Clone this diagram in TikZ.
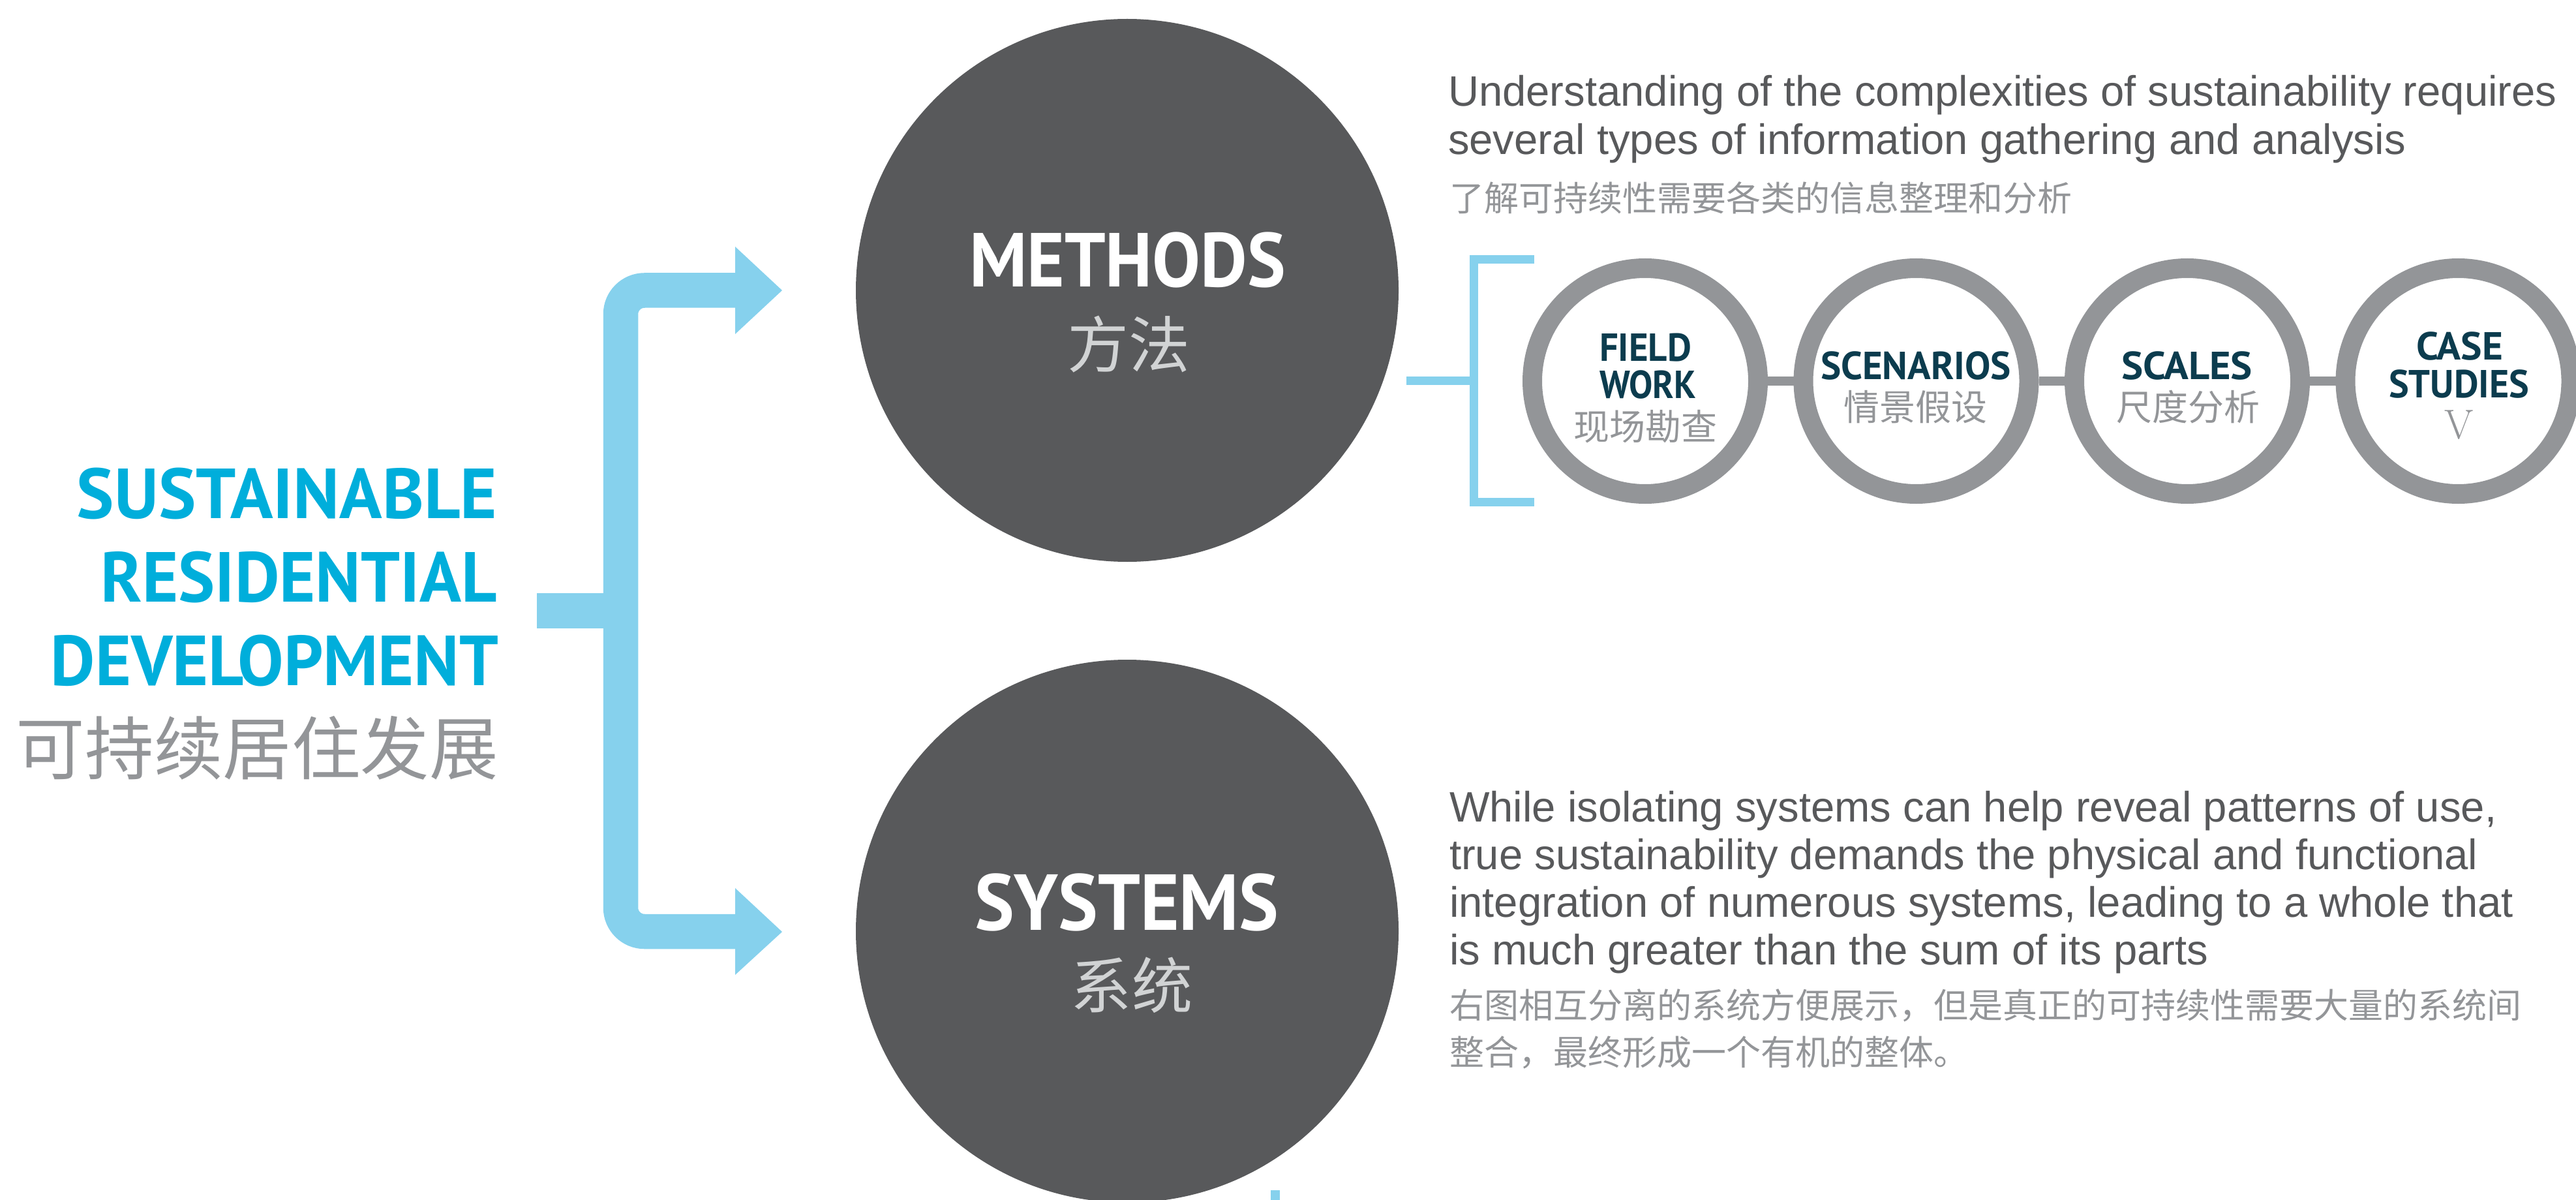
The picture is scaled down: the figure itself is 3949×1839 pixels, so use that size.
\documentclass[tikz,border=0pt]{standalone}
\usepackage{fontspec}
\usepackage{graphicx}
\newfontfamily\bodyfont{Liberation Sans}
\newfontfamily\dinfont{PT Sans}
\newfontfamily\cjk{Noto Sans CJK SC}
\definecolor{titlec}{HTML}{00AEDB}
\definecolor{lblue}{HTML}{86D1ED}
\definecolor{darkc}{HTML}{58595B}
\definecolor{ringg}{HTML}{939598}
\definecolor{tealc}{HTML}{0C3C4E}
\definecolor{textg}{HTML}{58595B}
\definecolor{cng}{HTML}{939598}
\definecolor{cnlight}{HTML}{D1D3D4}
\newcommand\fitw[2]{\resizebox{#1}{\height}{#2}}
\tikzset{
  bigcircle/.style={circle, fill=darkc, minimum size=208pt, inner sep=0pt},
  ring/.style={circle, draw=ringg, line width=7.5pt, minimum size=86.5pt, inner sep=0pt},
  ringbar/.style={draw=ringg, line width=3.5pt},
  thinbar/.style={draw=lblue, line width=3.25pt, line join=miter},
  bigbar/.style={draw=lblue, line width=13.375pt, rounded corners=9.125pt},
  txt/.style={inner sep=0pt, outer sep=0pt},
  bodytext/.style={txt, text=textg, font=\bodyfont\fontsize{16.3pt}{19pt}\selectfont, anchor=base west},
  cnbody/.style={txt, text=cng, font=\cjk\fontsize{13.25pt}{16pt}\selectfont, anchor=base west},
  ttl/.style={txt, text=titlec, font=\dinfont\bfseries\fontsize{27.14pt}{32pt}\selectfont, anchor=base east},
  ttlcn/.style={txt, text=cng, font=\cjk\fontsize{26.4pt}{30pt}\selectfont, anchor=base east},
  bigword/.style={txt, text=white, font=\dinfont\bfseries\fontsize{29.3pt}{34pt}\selectfont, anchor=base},
  bigcn/.style={txt, text=cnlight, font=\cjk\fontsize{23.5pt}{28pt}\selectfont, anchor=base},
  smalllabel/.style={txt, text=tealc, font=\dinfont\bfseries\fontsize{15pt}{18pt}\selectfont, anchor=base},
  smallcn/.style={txt, text=cng, font=\cjk\fontsize{13.75pt}{16pt}\selectfont, anchor=base},
}
\begin{document}
\begin{tikzpicture}[x=0.25pt, y=-0.25pt]
\useasboundingbox (0,0) rectangle (3949,1839);

% big circles
\node[bigcircle] (methods) at (1728,445) {};
\node[bigcircle] (systems) at (1728,1427) {};

% left title
\node[ttl] (t1) at (762,794) {\fitw{161pt}{SUSTAINABLE}};
\node[ttl] (t2) at (762,922) {\fitw{151.75pt}{RESIDENTIAL}};
\node[ttl] (t3) at (764,1050) {\fitw{171.5pt}{DEVELOPMENT}};
\node[ttlcn] (t4) at (764,1186) {可持续居住发展};

% big blue bracket arrows
\coordinate (stubL) at (823,936);
\coordinate (stubR) at (952,936);
\coordinate (topA) at (1130,445);
\coordinate (topC) at (951.5,445);
\coordinate (botC) at (951.5,1427.5);
\coordinate (botA) at (1130,1427.5);
\draw[bigbar] (topA) -- (topC) -- (botC) -- (botA);
\draw[draw=lblue, line width=13.5pt] (stubL) -- (stubR);
\fill[lblue] (1127,378) -- (1199,445) -- (1127,512) -- cycle;
\fill[lblue] (1127,1361) -- (1199,1428) -- (1127,1494) -- cycle;

% circle texts
\node[bigword] (mw) at (1728.5,440) {\fitw{121.25pt}{METHODS}};
\node[bigcn] (mc) at (1730.5,563) {方法};
\node[bigword, font=\dinfont\bfseries\fontsize{30.4pt}{34pt}\selectfont] (sw) at (1727,1425) {\fitw{116.5pt}{SYSTEMS}};
\node[bigcn, font=\cjk\fontsize{23.3pt}{28pt}\selectfont] (sc) at (1735,1545) {系统};

% methods bracket
\coordinate (mstub) at (2156,583.5);
\coordinate (bjoin) at (2259.5,583.5);
\coordinate (btop) at (2259.5,397.5);
\coordinate (bbot) at (2259.5,769.5);
\coordinate (btopend) at (2352,397.5);
\coordinate (bbotend) at (2352,769.5);
\draw[thinbar] (btopend) -- (btop) -- (bbot) -- (bbotend);
\draw[thinbar] (mstub) -- (bjoin);

% rings
\node[ring] (c1) at (2522,584) {};
\node[ring] (c2) at (2937.5,584) {};
\node[ring] (c3) at (3353,584) {};
\node[ring] (c4) at (3768.5,584) {};
\draw[ringbar] (c1.east) -- (c2.west);
\draw[ringbar] (c2.east) -- (c3.west);
\draw[ringbar] (c3.east) -- (c4.west);

\node[smalllabel] (l1a) at (2522.5,553) {\fitw{35.25pt}{FIELD}};
\node[smalllabel] (l1b) at (2526,611) {\fitw{37pt}{WORK}};
\node[smallcn] (l1c) at (2522,674) {现场勘查};
\node[smalllabel] (l2a) at (2937,582) {\fitw{73pt}{SCENARIOS}};
\node[smallcn] (l2c) at (2936,644) {情景假设};
\node[smalllabel] (l3a) at (3352.5,582) {\fitw{50.25pt}{SCALES}};
\node[smallcn] (l3c) at (3354,644) {尺度分析};
\node[smalllabel] (l4a) at (3770.5,552) {\fitw{33.25pt}{CASE}};
\node[smalllabel] (l4b) at (3769.5,610) {\fitw{53.75pt}{STUDIES}};
\node[txt, text=cng, font=\fontsize{16pt}{18pt}\selectfont, anchor=base] (l4c) at (3769.5,672) {V};

% top paragraph
\node[bodytext] (p1) at (2220,163) {Understanding of the complexities of sustainability requires};
\node[bodytext] (p2) at (2220,237) {several types of information gathering and analysis};
\node[cnbody] (p3) at (2222,324) {了解可持续性需要各类的信息整理和分析};

% bottom paragraph
\node[bodytext] (q1) at (2222,1259) {While isolating systems can help reveal patterns of use,};
\node[bodytext] (q2) at (2222,1332) {true sustainability demands the physical and functional};
\node[bodytext] (q3) at (2222,1405) {integration of numerous systems, leading to a whole that};
\node[bodytext] (q4) at (2222,1478) {is much greater than the sum of its parts};
\node[cnbody] (q5) at (2222,1560) {右图相互分离的系统方便展示，但是真正的可持续性需要大量的系统间};
\node[cnbody] (q6) at (2222,1632) {整合，最终形成一个有机的整体。};

% small bar at bottom edge
\fill[lblue] (1948,1824) rectangle (1962,1839);
\end{tikzpicture}
\end{document}
